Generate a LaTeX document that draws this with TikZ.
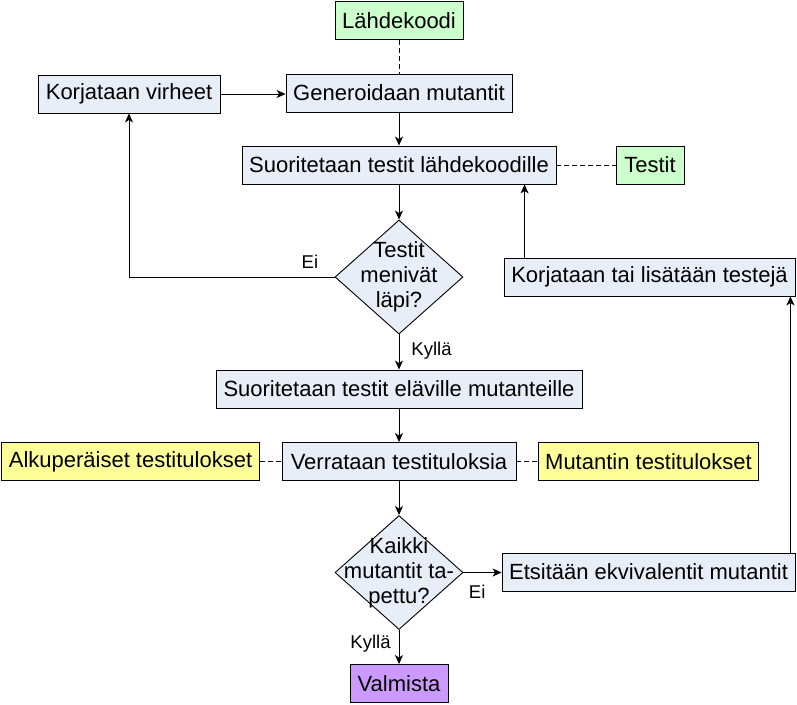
\documentclass[tikz,border=0pt]{standalone}
\usepackage{fontspec}
\setmainfont{Liberation Sans}
\usepackage{xcolor}
\usetikzlibrary{positioning, shapes.geometric, arrows.meta}
\definecolor{stepblue}{RGB}{232,238,248}
\definecolor{srcgreen}{RGB}{204,255,204}
\definecolor{datayellow}{RGB}{255,255,153}
\definecolor{donepurple}{RGB}{204,153,255}
\tikzset{
  box/.style={rectangle, draw=black, fill=#1, font=\fontsize{22}{25}\selectfont,
              minimum height=38pt, inner xsep=7pt, inner ysep=3pt, line width=0.9pt},
  box/.default=stepblue,
  decision/.style={diamond, draw=black, fill=stepblue, minimum width=128pt,
                   minimum height=114pt, inner sep=0pt, line width=0.9pt},
  dtext/.style={font=\fontsize{22}{25}\selectfont, align=center, inner sep=0pt},
  lbl/.style={font=\fontsize{18.5}{20}\selectfont, inner sep=2pt},
  flow/.style={-{Stealth[length=9pt, width=8pt, inset=2.5pt]}, line width=0.9pt},
  link/.style={dashed, dash pattern=on 5pt off 3pt, line width=0.8pt}
}

\begin{document}
\begin{tikzpicture}[x=1pt, y=-1pt]
  \useasboundingbox (0,0) rectangle (797,704);
  % upper loop
  \node[box=srcgreen, minimum width=128pt] (src) at (399,20.5) {Lähdekoodi};
  \node[box, minimum width=182pt] (fix) at (129,94) {Korjataan virheet};
  \node[box, minimum width=226pt] (gen) at (399,93) {Generoidaan mutantit};
  \node[box, minimum width=314pt] (run) at (399,165) {Suoritetaan testit lähdekoodille};
  \node[box=srcgreen, minimum width=68pt] (tests) at (650,165) {Testit};
  \node[decision, label={[dtext]center:Testit\\menivät\\läpi?}] (d1) at (399,277) {};
  \node[box, minimum width=291pt] (fixt) at (649.5,277) {Korjataan tai lisätään testejä};
  % lower loop
  \node[box, minimum width=366pt] (runm) at (399,389) {Suoritetaan testit eläville mutanteille};
  \node[box, minimum width=234pt] (cmp) at (399,461.5) {Verrataan testituloksia};
  \node[box=datayellow, minimum width=257pt] (orig) at (130.5,461.5) {Alkuperäiset testitulokset};
  \node[box=datayellow, minimum width=217pt] (mres) at (648.5,461.5) {Mutantin testitulokset};
  \node[decision, label={[dtext]center:Kaikki\\mutantit ta-\\pettu?}] (d2) at (399,572.5) {};
  \node[box, minimum width=293pt] (eqv) at (648.5,572) {Etsitään ekvivalentit mutantit};
  \node[box=donepurple, minimum width=98pt] (done) at (399,683.5) {Valmista};
  % connectors
  \draw[link] (src.south) -- (gen.north);
  \draw[flow] (fix.east) -- (gen.west |- fix.east);
  \draw[flow] (gen.south) -- (run.north);
  \draw[link] (run.east) -- (tests.west);
  \draw[flow] (run.south) -- (d1.north);
  \draw[flow] (d1.west) -| node[lbl, above=6pt, pos=0.06]{Ei} (fix.south);
  \draw[flow] (d1.south) -- node[lbl, right=10pt, pos=0.45]{Kyllä} (runm.north);
  \draw[flow] ([xshift=21pt]fixt.north west) -- ([xshift=21pt]fixt.north west |- run.south);
  \draw[flow] (runm.south) -- (cmp.north);
  \draw[link] (orig.east) -- (cmp.west);
  \draw[link] (cmp.east) -- (mres.west);
  \draw[flow] (cmp.south) -- (d2.north);
  \draw[flow] (d2.east) -- node[lbl, below=10pt, pos=0.36]{Ei} (d2.east -| eqv.west);
  \draw[flow] ([xshift=-5pt]eqv.north east) -- ([xshift=-5pt]fixt.south east);
  \draw[flow] (d2.south) -- node[lbl, left=6pt, pos=0.4]{Kyllä} (done.north);
\end{tikzpicture}
\end{document}
